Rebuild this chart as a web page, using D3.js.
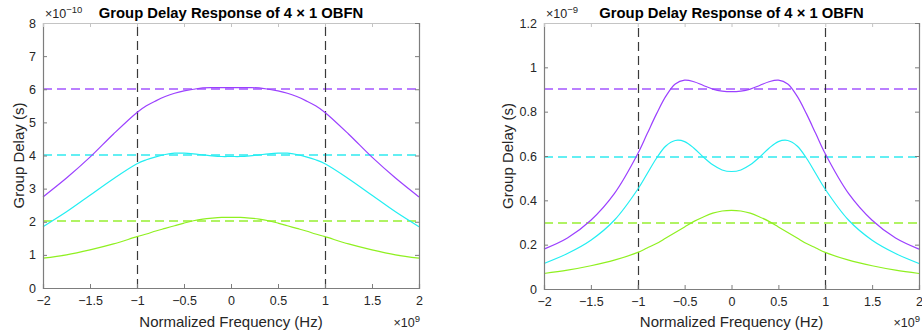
<!DOCTYPE html>
<html><head><meta charset="utf-8">
<script src="https://cdn.jsdelivr.net/npm/d3@7"></script>
<style>
body{margin:0;background:#fff;}
svg{display:block;font-family:"Liberation Sans",Arial,sans-serif;}
</style></head>
<body><svg id="c" width="922" height="332"></svg>
<script>
// Frequency grid (x 1e9 Hz)
const freq = [-2,-1.75,-1.5,-1.25,-1,-0.9,-0.8,-0.7,-0.6,-0.5,-0.4,-0.3,-0.2,-0.1,0,0.1,0.2,0.3,0.4,0.5,0.6,0.7,0.8,0.9,1,1.25,1.5,1.75,2];
const xTicks = [-2,-1.5,-1,-0.5,0,0.5,1,1.5,2];

// Left panel (x 1e-10 s)
const leftPurple = [2.75,3.32,3.95,4.65,5.3,5.5,5.65,5.78,5.88,5.95,6.0,6.04,6.05,6.05,6.05,6.05,6.05,6.04,6.0,5.95,5.88,5.78,5.65,5.5,5.3,4.65,3.95,3.32,2.75];
const leftCyan   = [1.85,2.3,2.8,3.3,3.75,3.87,3.96,4.03,4.07,4.07,4.05,4.02,3.99,3.97,3.97,3.97,3.99,4.02,4.05,4.07,4.07,4.03,3.96,3.87,3.75,3.3,2.8,2.3,1.85];
const leftGreen  = [0.9,1.0,1.15,1.33,1.55,1.63,1.72,1.8,1.88,1.96,2.03,2.08,2.11,2.13,2.13,2.13,2.11,2.08,2.03,1.96,1.88,1.8,1.72,1.63,1.55,1.33,1.15,1.0,0.9];
const leftRefs   = [6,4,2];
const leftYTicks = [0,1,2,3,4,5,6,7,8];

// Right panel (x 1e-9 s)
const rightPurple = [0.18,0.23,0.31,0.43,0.61,0.70,0.79,0.87,0.925,0.942,0.935,0.918,0.902,0.893,0.89,0.893,0.902,0.918,0.935,0.942,0.925,0.87,0.79,0.70,0.61,0.43,0.31,0.23,0.18];
const rightCyan   = [0.115,0.16,0.22,0.31,0.45,0.52,0.59,0.645,0.67,0.665,0.635,0.595,0.56,0.537,0.53,0.537,0.56,0.595,0.635,0.665,0.67,0.645,0.59,0.52,0.45,0.31,0.22,0.16,0.115];
const rightGreen  = [0.07,0.085,0.105,0.13,0.165,0.185,0.205,0.23,0.255,0.28,0.305,0.325,0.342,0.352,0.355,0.352,0.342,0.325,0.305,0.28,0.255,0.23,0.205,0.185,0.165,0.13,0.105,0.085,0.07];
const rightRefs   = [0.9,0.6,0.3];
const rightYTicks = [0,0.2,0.4,0.6,0.8,1,1.2];
const rightYLabels = ["0","0.2","0.4","0.6","0.8","1","1.2"];

const colors = ["#9b40ff","#22eef2","#8ff020"];
const refColors = ["#a456ff","#30eaf0","#96f030"];
const svg = d3.select("#c");

function fmt(v){ return String(v).replace("-", "\u2212"); }
const snap = v => Math.round(v) + 0.5;
const snap2 = v => 2*Math.floor(v/2) + 1;

function panel(o){
  const g = svg.append("g");
  const x = d3.scaleLinear().domain([-2,2]).range([o.x0,o.x1]);
  const y = d3.scaleLinear().domain([0,o.ymax]).range([o.y1,o.y0]);
  const axCol = "#7d7d7d", txt = "#262626";

  // reference horizontal dashed lines
  o.refs.forEach((r,i)=>{
    g.append("line").attr("x1",x(-2)).attr("x2",x(2)).attr("y1",snap2(y(r))).attr("y2",snap2(y(r)))
     .attr("stroke",refColors[i]).attr("stroke-width",1.6).attr("stroke-dasharray","9,5");
  });
  // vertical dashed lines at +-1
  [-1,1].forEach(v=>{
    g.append("line").attr("x1",snap(x(v))).attr("x2",snap(x(v))).attr("y1",y(0)).attr("y2",y(o.ymax))
     .attr("stroke","#3a3a3a").attr("stroke-width",1.2).attr("stroke-dasharray","9,5");
  });
  // curves
  const line = d3.line().x((d,i)=>x(freq[i])).y(d=>y(d)).curve(d3.curveCatmullRom.alpha(0.5));
  o.series.forEach((s,i)=>{
    g.append("path").datum(s).attr("d",line).attr("fill","none")
     .attr("stroke",colors[i]).attr("stroke-width",1.2);
  });

  // axes
  const ax = d3.axisBottom(x).tickValues(xTicks).tickSize(-4).tickPadding(8).tickFormat(fmt);
  const ay = d3.axisLeft(y).tickValues(o.yTicks).tickSize(-4).tickPadding(7).tickFormat((d,i)=>o.yLabels?o.yLabels[i]:fmt(d));
  const gx = g.append("g").attr("transform",`translate(0,${o.y1})`).call(ax);
  const gy = g.append("g").attr("transform",`translate(${o.x0},0)`).call(ay);
  const gxt = g.append("g").attr("transform",`translate(0,${o.y0})`).call(d3.axisTop(x).tickValues(xTicks).tickSize(-4).tickFormat(""));
  const gyr = g.append("g").attr("transform",`translate(${o.x1},0)`).call(d3.axisRight(y).tickValues(o.yTicks).tickSize(-4).tickFormat(""));
  [gx,gy,gxt,gyr].forEach(a=>{
    a.selectAll(".domain").attr("stroke",axCol).attr("stroke-width",1.2);
    a.selectAll(".tick line").attr("stroke",axCol);
    a.selectAll("text").attr("fill",txt).attr("font-size",12.5).attr("font-family","Liberation Sans, Arial, sans-serif");
  });
  gxt.selectAll(".domain").attr("stroke","#c4c4c4");
  gxt.selectAll(".tick line").attr("stroke","#c4c4c4");

  // title
  g.append("text").attr("x",(o.x0+o.x1)/2).attr("y",18).attr("text-anchor","middle")
   .attr("font-weight","bold").attr("font-size",14.8).attr("fill","#000").text("Group Delay Response of 4 \u00d7 1 OBFN");
  // x label
  g.append("text").attr("x",(o.x0+o.x1)/2).attr("y",327).attr("text-anchor","middle")
   .attr("font-size",15).attr("fill",txt).text("Normalized Frequency (Hz)");
  // y label
  g.append("text").attr("transform",`translate(${o.ylx},${(o.y0+o.y1)/2}) rotate(-90)`).attr("text-anchor","middle")
   .attr("font-size",15).attr("fill",txt).text("Group Delay (s)");
  // exponents
  const e1 = g.append("text").attr("x",o.x0+2).attr("y",18).attr("font-size",12.5).attr("fill",txt);
  e1.append("tspan").text("\u00d710");
  e1.append("tspan").attr("dy",-5).attr("font-size",9.5).text(o.yexp);
  const e2 = g.append("text").attr("x",o.x1+1).attr("y",327).attr("text-anchor","end").attr("font-size",12.5).attr("fill",txt);
  e2.append("tspan").text("\u00d710");
  e2.append("tspan").attr("dy",-5).attr("font-size",9.5).text("9");
}

panel({x0:43,x1:419,y0:23,y1:288,ymax:8,refs:leftRefs,yTicks:leftYTicks,series:[leftPurple,leftCyan,leftGreen],ylx:24,yexp:"\u221210"});
panel({x0:544,x1:919,y0:23,y1:289,ymax:1.2,refs:rightRefs,yTicks:rightYTicks,yLabels:rightYLabels,series:[rightPurple,rightCyan,rightGreen],ylx:513,yexp:"\u22129"});
</script>
</body></html>
